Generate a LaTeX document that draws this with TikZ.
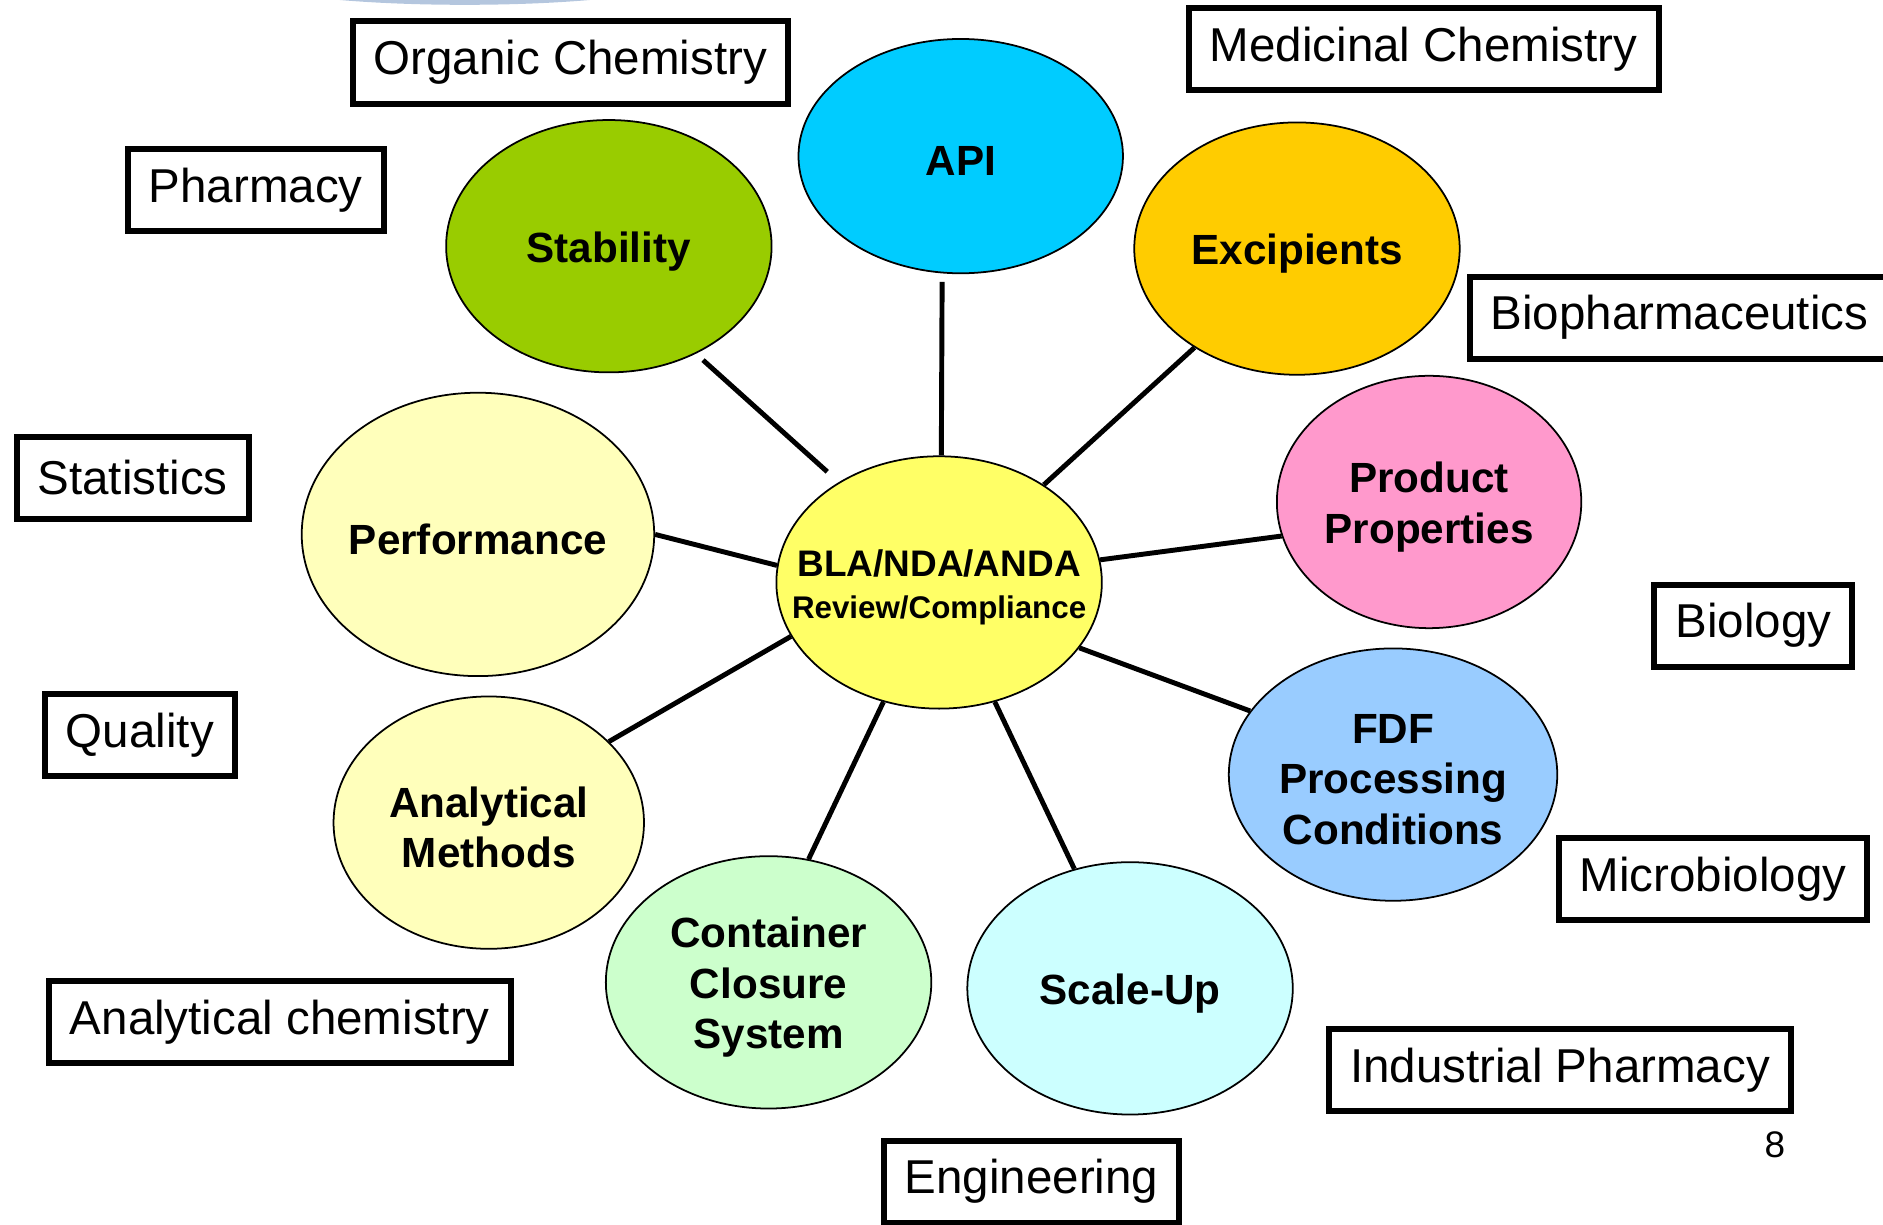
\documentclass[tikz,border=0pt]{standalone}
\usepackage{fontspec}
\setmainfont{Liberation Sans}
\usetikzlibrary{shapes.geometric,scopes}

\definecolor{apiblue}{HTML}{00CCFF}
\definecolor{stabgreen}{HTML}{99CC00}
\definecolor{excipgold}{HTML}{FFCC00}
\definecolor{prodpink}{HTML}{FF99CC}
\definecolor{fdfblue}{HTML}{99CCFF}
\definecolor{scalecyan}{HTML}{CCFFFF}
\definecolor{contgreen}{HTML}{CCFFCC}
\definecolor{paleyellow}{HTML}{FFFFBB}
\definecolor{hubyellow}{HTML}{FFFF66}
\definecolor{arcblue}{HTML}{B4C6DE}

\begin{document}
\begin{tikzpicture}[x=0.012cm,y=-0.012cm,
    bub/.style={ellipse,draw=black,line width=0.5pt,minimum width=3.25cm,minimum height=2.52cm,inner sep=0pt},
    txt/.style={font=\fontsize{12}{14.3}\selectfont\bfseries,align=center,yshift=-1.4pt},
    tag/.style={rectangle,draw=black,line width=1.7pt,font=\fontsize{13.5}{16}\selectfont,inner xsep=0.21cm,minimum height=0.82cm},
    link/.style={line width=1.4pt}]
        \useasboundingbox (0,0) rectangle (1568,1020);
        \clip (0,0) rectangle (1568,1020);
        \fill[arcblue] (387,-20) ellipse [x radius=188, y radius=24];

        % the hub and the topics round it
        \node[bub,fill=hubyellow,label={[align=center,yshift=-1.4pt,font=\fontsize{8.9}{12}\selectfont\bfseries]center:{\fontsize{10.5}{12}\selectfont BLA/NDA/ANDA}\\Review/Compliance}] (hub) at (782,485) {};
        \node[bub,fill=apiblue,minimum width=3.24cm,minimum height=2.34cm,label={[txt]center:API}] (api) at (800,130) {};
        \node[bub,fill=stabgreen,label={[txt]center:Stability}] (stab) at (507,205) {};
        \node[bub,fill=excipgold,label={[txt]center:Excipients}] (excip) at (1080,207) {};
        \node[bub,fill=prodpink,minimum width=3.04cm,label={[txt]center:Product\\Properties}] (prod) at (1190,418) {};
        \node[bub,fill=fdfblue,minimum width=3.28cm,label={[txt]center:FDF\\Processing\\Conditions}] (fdf) at (1160,645) {};
        \node[bub,fill=scalecyan,label={[txt]center:Scale-Up}] (scale) at (941,823) {};
        \node[bub,fill=contgreen,label={[txt]center:Container\\Closure\\System}] (cont) at (640,818) {};
        \node[bub,fill=paleyellow,minimum width=3.1cm,label={[txt]center:Analytical\\Methods}] (anal) at (407,685) {};
        \node[bub,fill=paleyellow,minimum width=3.52cm,minimum height=2.83cm,label={[txt]center:Performance}] (perf) at (398,445) {};

        {[link]
        \draw[shorten <=2.7pt,shorten >=4.4pt] (stab.-51) -- (hub.135);
        \draw[shorten <=2.4pt] (api.-99) -- (hub.89);
        \draw (excip.-136) -- (hub.43);
        \draw (prod.-167) -- (hub.8.5);
        \draw (fdf.156) -- (hub.-25);
        \draw (scale.115) -- (hub.-65.5);
        \draw (cont.72) -- (hub.-115);
        \draw (anal.34) -- (hub.-160);
        \draw (perf.0) -- (hub.174);
        }

        % disciplines
        \node[tag] (orgchem) at (475,52) {Organic Chemistry};
        \node[tag] (medchem) at (1185.5,41) {Medicinal Chemistry};
        \node[tag] (pharm) at (213,158.5) {Pharmacy};
        \node[tag] (biopharm) at (1398.5,264.5) {Biopharmaceutics};
        \node[tag] (stats) at (110.5,398) {Statistics};
        \node[tag] (bio) at (1460,521) {Biology};
        \node[tag] (qual) at (116.5,612) {Quality};
        \node[tag] (micro) at (1426.5,732) {Microbiology};
        \node[tag] (analchem) at (233,851) {Analytical chemistry};
        \node[tag] (indpharm) at (1299,891) {Industrial Pharmacy};
        \node[tag] (eng) at (859,984) {Engineering};

        \node[font=\fontsize{10.5}{12}\selectfont] (page) at (1478,953) {8};
    \end{tikzpicture}
\end{document}
